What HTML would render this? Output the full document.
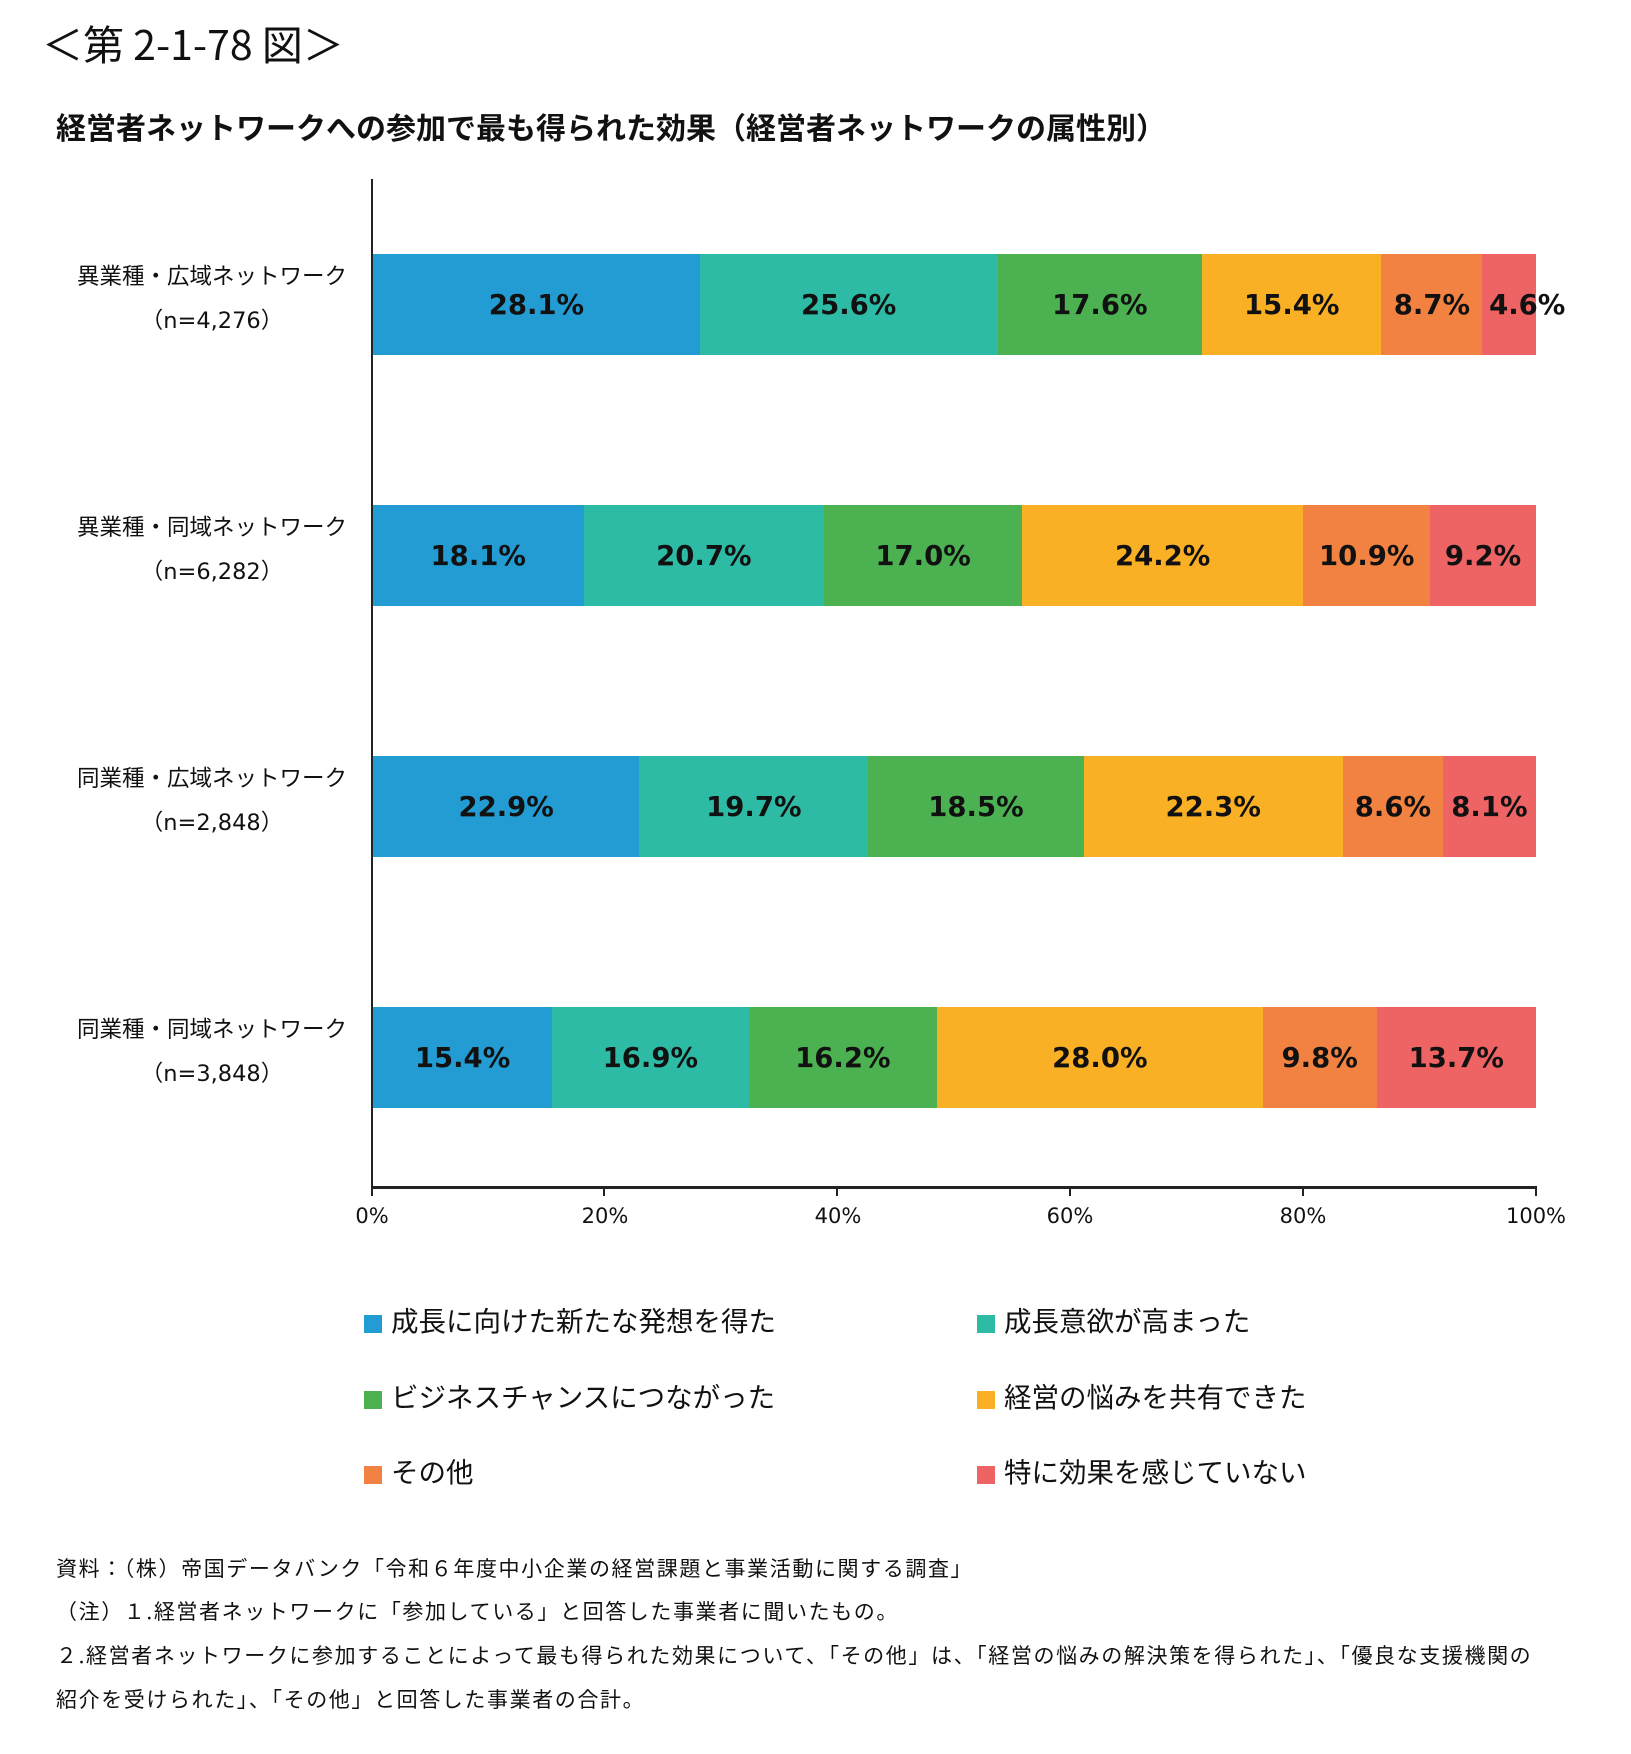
<!DOCTYPE html>
<html><head><meta charset="utf-8"><style>
body{margin:0;width:1631px;height:1754px;background:#fff;position:relative;font-family:"DejaVu Sans","Noto Sans CJK JP",sans-serif;color:#111;overflow:hidden}
.a{position:absolute;white-space:nowrap}
.bar{position:absolute;height:101px;display:flex}
.bar div{height:100%;display:flex;align-items:center;justify-content:center;font-weight:bold;font-size:27.5px;font-family:"DejaVu Sans",sans-serif;color:#111;overflow:visible;white-space:nowrap}
.cat{position:absolute;right:1284px;text-align:right;font-size:22.5px;line-height:44px;font-family:"DejaVu Sans","Noto Sans CJK JP",sans-serif}
.cat span{display:block;text-align:center}
.tick{position:absolute;top:1204px;font-size:21px;width:100px;text-align:center;margin-left:-50px}
.tk{position:absolute;top:1187px;width:2px;height:9px;background:#222}
.lg{position:absolute;font-size:27.5px;font-family:"Noto Sans CJK JP",sans-serif}
.lg i{display:inline-block;width:18px;height:18px;margin-right:9px;vertical-align:-2px}
.n{position:absolute;left:56px;font-size:21px;letter-spacing:1.6px;font-family:"Noto Sans CJK JP",sans-serif}
</style></head><body>
<div class="a" style="left:42px;top:12px;font-size:41px;font-family:'Noto Sans CJK JP',sans-serif">＜第 2-1-78 図＞</div>
<div class="a" style="left:56px;top:104px;font-size:30px;font-weight:bold;font-family:'Noto Sans CJK JP',sans-serif">経営者ネットワークへの参加で最も得られた効果（経営者ネットワークの属性別）</div>

<div class="a" style="left:371px;top:179px;width:2px;height:1010px;background:#222"></div>
<div class="a" style="left:371px;top:1186px;width:1166px;height:3px;background:#222"></div>
<div class="tk" style="left:371px"></div><div class="tk" style="left:603px"></div><div class="tk" style="left:836px"></div><div class="tk" style="left:1069px"></div><div class="tk" style="left:1302px"></div><div class="tk" style="left:1535px"></div>
<div class="tick" style="left:372px">0%</div><div class="tick" style="left:605px">20%</div><div class="tick" style="left:838px">40%</div><div class="tick" style="left:1070px">60%</div><div class="tick" style="left:1303px">80%</div><div class="tick" style="left:1536px">100%</div>

<div class="cat" style="top:255px">異業種・広域ネットワーク<span>（n=4,276）</span></div>
<div class="cat" style="top:506px">異業種・同域ネットワーク<span>（n=6,282）</span></div>
<div class="cat" style="top:757px">同業種・広域ネットワーク<span>（n=2,848）</span></div>
<div class="cat" style="top:1008px">同業種・同域ネットワーク<span>（n=3,848）</span></div>

<div class="bar" style="left:373px;top:254px;width:1163px">
<div style="width:28.1%;background:#229CD2">28.1%</div><div style="width:25.6%;background:#2EBBA5">25.6%</div><div style="width:17.6%;background:#4CB150">17.6%</div><div style="width:15.4%;background:#FAB024">15.4%</div><div style="width:8.7%;background:#F28242">8.7%</div><div style="width:4.6%;background:#EE6363;padding-left:36px;box-sizing:border-box">4.6%</div></div>
<div class="bar" style="left:373px;top:505px;width:1163px">
<div style="width:18.1%;background:#229CD2">18.1%</div><div style="width:20.7%;background:#2EBBA5">20.7%</div><div style="width:17.0%;background:#4CB150">17.0%</div><div style="width:24.2%;background:#FAB024">24.2%</div><div style="width:10.9%;background:#F28242">10.9%</div><div style="width:9.1%;background:#EE6363">9.2%</div></div>
<div class="bar" style="left:373px;top:756px;width:1163px">
<div style="width:22.9%;background:#229CD2">22.9%</div><div style="width:19.7%;background:#2EBBA5">19.7%</div><div style="width:18.5%;background:#4CB150">18.5%</div><div style="width:22.3%;background:#FAB024">22.3%</div><div style="width:8.6%;background:#F28242">8.6%</div><div style="width:8.0%;background:#EE6363">8.1%</div></div>
<div class="bar" style="left:373px;top:1007px;width:1163px">
<div style="width:15.4%;background:#229CD2">15.4%</div><div style="width:16.9%;background:#2EBBA5">16.9%</div><div style="width:16.2%;background:#4CB150">16.2%</div><div style="width:28.0%;background:#FAB024">28.0%</div><div style="width:9.8%;background:#F28242">9.8%</div><div style="width:13.7%;background:#EE6363">13.7%</div></div>

<div class="lg" style="left:364px;top:1299px"><i style="background:#229CD2"></i>成長に向けた新たな発想を得た</div>
<div class="lg" style="left:977px;top:1299px"><i style="background:#2EBBA5"></i>成長意欲が高まった</div>
<div class="lg" style="left:364px;top:1375px"><i style="background:#4CB150"></i>ビジネスチャンスにつながった</div>
<div class="lg" style="left:977px;top:1375px"><i style="background:#FAB024"></i>経営の悩みを共有できた</div>
<div class="lg" style="left:364px;top:1450px"><i style="background:#F28242"></i>その他</div>
<div class="lg" style="left:977px;top:1450px"><i style="background:#EE6363"></i>特に効果を感じていない</div>

<div class="n" style="top:1553px">資料：（株）帝国データバンク「令和６年度中小企業の経営課題と事業活動に関する調査」</div>
<div class="n" style="top:1596px">（注）１.経営者ネットワークに「参加している」と回答した事業者に聞いたもの。</div>
<div class="n" style="top:1640px">２.経営者ネットワークに参加することによって最も得られた効果について、「その他」は、「経営の悩みの解決策を得られた」、「優良な支援機関の</div>
<div class="n" style="top:1684px">紹介を受けられた」、「その他」と回答した事業者の合計。</div>
</body></html>
